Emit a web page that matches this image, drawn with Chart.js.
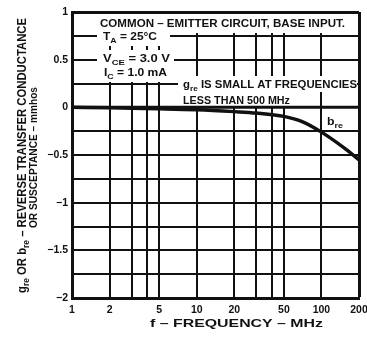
<!DOCTYPE html>
<html>
<head>
<meta charset="utf-8">
<script src="https://cdn.jsdelivr.net/npm/chart.js@4.4.1/dist/chart.umd.min.js"></script>
<style>
html,body{margin:0;padding:0;background:#fff;}
canvas{display:block;}
</style>
</head>
<body>
<canvas id="c" width="367" height="339"></canvas>
<script>
// ---- data ----
const freqMHz = [1, 2, 3, 5, 10, 20, 30, 50, 70, 100, 150, 200];
const bre = [0, -0.005, -0.01, -0.015, -0.025, -0.045, -0.06, -0.095, -0.15, -0.26, -0.42, -0.55];
const greFreq = [1, 200];
const gre = [0, 0];
const xGridTicks = [1, 2, 3, 4, 5, 10, 20, 30, 40, 50, 100, 200];
const xLabelTicks = [1, 2, 5, 10, 20, 50, 100, 200];
const yLabelValues = [1, 0.5, 0, -0.5, -1, -1.5, -2];
const yLabelTexts = ['1', '0.5', '0', '\u22120.5', '\u22121', '\u22121.5', '\u22122'];

const FONT = '"Liberation Sans", Arial, Helvetica, sans-serif';

function drawRuns(ctx, runs, x, y, targetW, size, subSize, align) {
  ctx.save();
  ctx.textBaseline = 'alphabetic';
  ctx.textAlign = 'left';
  let w = 0;
  for (const r of runs) {
    ctx.font = 'bold ' + (r.sub ? subSize : size) + 'px ' + FONT;
    r.w = ctx.measureText(r.t).width;
    w += r.w;
  }
  const s = targetW ? targetW / w : 1;
  ctx.translate(x, y);
  ctx.scale(s, 1);
  let cx = align === 'center' ? -w / 2 : 0;
  for (const r of runs) {
    ctx.font = 'bold ' + (r.sub ? subSize : size) + 'px ' + FONT;
    ctx.fillText(r.t, cx, r.sub ? 3 : 0);
    cx += r.w;
  }
  ctx.restore();
}

const annotations = {
  id: 'annotations',
  beforeDatasetsDraw(chart) {
    const ctx = chart.ctx;
    ctx.save();
    ctx.fillStyle = '#fff';
    const boxes = [
      [95, 14, 255, 19],
      [97, 30, 73, 16],
      [97, 50, 77, 17],
      [97, 66, 75, 16],
      [178, 76, 179, 16],
      [178, 92, 115, 14],
      [324, 113, 22, 16]
    ];
    for (const b of boxes) ctx.fillRect(b[0], b[1], b[2], b[3]);
    ctx.fillStyle = '#111';
    drawRuns(ctx, [{t: 'COMMON \u2013 EMITTER CIRCUIT, BASE INPUT.'}], 100, 26.5, 245, 11, 8);
    drawRuns(ctx, [{t: 'T'}, {t: 'A', sub: true}, {t: ' = 25\u00B0C'}], 103, 40, 54, 11, 8);
    drawRuns(ctx, [{t: 'V'}, {t: 'CE', sub: true}, {t: ' = 3.0 V'}], 103, 61.5, 67, 11, 8);
    drawRuns(ctx, [{t: 'I'}, {t: 'C', sub: true}, {t: ' = 1.0 mA'}], 104, 76, 63, 11, 8);
    drawRuns(ctx, [{t: 'g'}, {t: 're', sub: true}, {t: ' IS SMALL AT FREQUENCIES'}], 183, 88, 174, 11, 8);
    drawRuns(ctx, [{t: 'LESS THAN 500 MHz'}], 183, 104, 107, 11, 8);
    drawRuns(ctx, [{t: 'b'}, {t: 're', sub: true}], 327, 125, 16, 11, 8);
    ctx.restore();
  },
  afterDraw(chart) {
    const ctx = chart.ctx;
    ctx.save();
    ctx.fillStyle = '#111';
    // y axis titles (rotated)
    ctx.save();
    ctx.translate(25.5, 155.5);
    ctx.rotate(-Math.PI / 2);
    drawRuns(ctx, [{t: 'g'}, {t: 're', sub: true}, {t: ' OR b'}, {t: 're', sub: true}, {t: ' \u2013 REVERSE TRANSFER CONDUCTANCE'}], 0, 0, 275, 12, 9, 'center');
    ctx.restore();
    ctx.save();
    ctx.translate(36.5, 157.5);
    ctx.rotate(-Math.PI / 2);
    drawRuns(ctx, [{t: 'OR SUSCEPTANCE \u2013 mmhos'}], 0, 0, 141, 11, 8, 'center');
    ctx.restore();
    // x axis title
    drawRuns(ctx, [{t: 'f \u2013 FREQUENCY \u2013 MHz'}], 150, 327, 173, 11, 8);
    ctx.restore();
  }
};

new Chart(document.getElementById('c'), {
  type: 'line',
  data: {
    datasets: [
      {
        label: 'gre',
        data: greFreq.map((f, i) => ({x: f, y: gre[i]})),
        borderColor: '#111',
        borderWidth: 3,
        pointRadius: 0,
        fill: false
      },
      {
        label: 'bre',
        data: freqMHz.map((f, i) => ({x: f, y: bre[i]})),
        borderColor: '#111',
        borderWidth: 3.5,
        pointRadius: 0,
        cubicInterpolationMode: 'monotone',
        fill: false
      }
    ]
  },
  options: {
    responsive: false,
    devicePixelRatio: 1,
    animation: false,
    events: [],
    layout: {padding: {top: 12, right: 8, left: 0, bottom: 0}},
    plugins: {legend: {display: false}, tooltip: {enabled: false}},
    scales: {
      x: {
        type: 'logarithmic',
        min: 1,
        max: 200,
        afterBuildTicks(scale) {
          scale.ticks = xGridTicks.map(v => ({value: v}));
        },
        afterFit(scale) {
          scale.height = 41;
          scale.paddingLeft = 0;
          scale.paddingRight = 0;
        },
        grid: {
          color: '#111',
          lineWidth: c => (c.tick && c.tick.value === 200) ? 3 : 2,
          drawTicks: false
        },
        border: {display: true, color: '#111', width: 3},
        ticks: {
          autoSkip: false,
          maxRotation: 0,
          padding: 6,
          color: '#111',
          font: {family: FONT, size: 10.5, weight: 'bold'},
          callback: v => xLabelTicks.includes(v) ? String(v) : ''
        }
      },
      y: {
        type: 'linear',
        min: -2,
        max: 1,
        afterFit(scale) {
          scale.width = 72;
          scale.paddingTop = 0;
          scale.paddingBottom = 0;
        },
        grid: {
          color: '#111',
          lineWidth: c => (c.tick && c.tick.value === 1) ? 3 : 2,
          drawTicks: false
        },
        border: {display: true, color: '#111', width: 3},
        ticks: {
          stepSize: 0.25,
          padding: 4,
          color: '#111',
          font: {family: FONT, size: 10.5, weight: 'bold'},
          callback: v => {
            const i = yLabelValues.findIndex(t => Math.abs(t - v) < 1e-6);
            return i >= 0 ? yLabelTexts[i] : '';
          }
        }
      }
    }
  },
  plugins: [annotations]
});
</script>
</body>
</html>
